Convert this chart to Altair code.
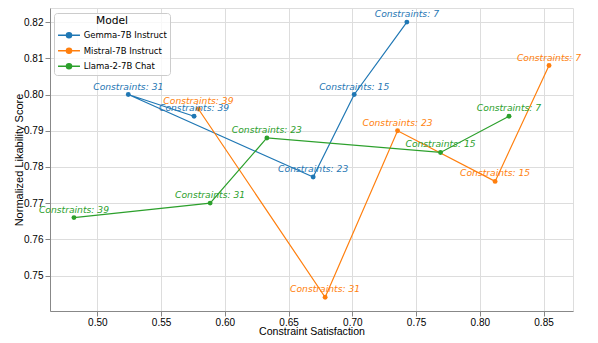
import altair as alt
import pandas as pd

models = ["Gemma-7B Instruct"] * 5 + ["Mistral-7B Instruct"] * 5 + ["Llama-2-7B Chat"] * 5
constraints = [7, 15, 23, 31, 39] * 3
satisfaction = [0.7428, 0.7015, 0.6693, 0.5243, 0.5759,
                0.8543, 0.8120, 0.7355, 0.6787, 0.5793,
                0.8229, 0.7692, 0.6330, 0.5885, 0.4817]
likability = [0.820, 0.800, 0.7772, 0.800, 0.794,
              0.808, 0.776, 0.790, 0.744, 0.796,
              0.794, 0.784, 0.788, 0.770, 0.766]

model_order = ["Gemma-7B Instruct", "Mistral-7B Instruct", "Llama-2-7B Chat"]
palette = ["#1f77b4", "#ff7f0e", "#2ca02c"]
x_ticks = [0.50, 0.55, 0.60, 0.65, 0.70, 0.75, 0.80, 0.85]
y_ticks = [0.75, 0.76, 0.77, 0.78, 0.79, 0.80, 0.81, 0.82]

df = pd.DataFrame({
    "Model": models,
    "constraints": constraints,
    "sat": satisfaction,
    "lik": likability,
})
df["label"] = "Constraints: " + df["constraints"].astype(str)

FONT = "DejaVu Sans"

x = alt.X("sat:Q", scale=alt.Scale(domain=[0.4629, 0.8731], nice=False, zero=False),
          axis=alt.Axis(values=x_ticks, format=".2f", title="Constraint Satisfaction",
                        titleFontWeight=400, titleBaseline="alphabetic", titleY=23.5,
                        titleFontSize=10.6, labelPadding=1.5))
y = alt.Y("lik:Q", scale=alt.Scale(domain=[0.7402, 0.8239], nice=False, zero=False),
          axis=alt.Axis(values=y_ticks, format=".2f", title="Normalized Likability Score",
                        titleFontWeight=400, titleBaseline="middle", titleX=-31))

legend_path = "M-2.44,0H2.44M-0.56,0A0.56,0.56,0,1,1,0.56,0A0.56,0.56,0,1,1,-0.56,0Z"

color = alt.Color("Model:N", scale=alt.Scale(domain=model_order, range=palette),
                  legend=alt.Legend(title="Model", orient="none", legendX=4, legendY=5,
                                    symbolType=legend_path, symbolSize=81,
                                    symbolStrokeWidth=1.5, symbolOffset=6.5,
                                    titleFontSize=10.7, titleFontWeight=400,
                                    titleAnchor="middle", titleFont=FONT,
                                    labelFontSize=8.5, labelFont=FONT,
                                    rowPadding=2.5, labelOffset=9.2, padding=3,
                                    fillColor="rgba(255,255,255,0.8)",
                                    strokeColor="#cccccc", cornerRadius=3,
                                    titlePadding=3, titleColor="black", labelColor="black"))

base = alt.Chart(df)

lines = base.mark_line(strokeWidth=1.2).encode(
    x=x, y=y, color=color, order=alt.Order("constraints:Q"))
points = base.mark_circle(size=24, opacity=1).encode(x=x, y=y, color=color)
labels = base.mark_text(fontStyle="italic", fontSize=9.2, font=FONT, dy=-5,
                        baseline="alphabetic", align="center").encode(
    x=x, y=y, text="label:N",
    color=alt.Color("Model:N", scale=alt.Scale(domain=model_order, range=palette), legend=None))

chart = alt.layer(lines, points, labels).properties(
    width=523, height=303,
    autosize=alt.AutoSizeParams(type="none"),
    padding={"left": 42, "top": 0, "right": 17, "bottom": 24},
).configure_view(
    stroke="black", strokeWidth=1
).configure_axis(
    labelFont=FONT, titleFont=FONT, labelFontSize=8, titleFontSize=10.8,
    titleFontWeight=400, labelColor="black", titleColor="black",
    tickColor="black", domainColor="black", tickSize=3.5, labelPadding=2,
    gridColor="#b0b0b0", gridWidth=1, titlePadding=3
).configure(background="white")

chart.save("out.html", embed_options={"renderer": "svg", "actions": False})
